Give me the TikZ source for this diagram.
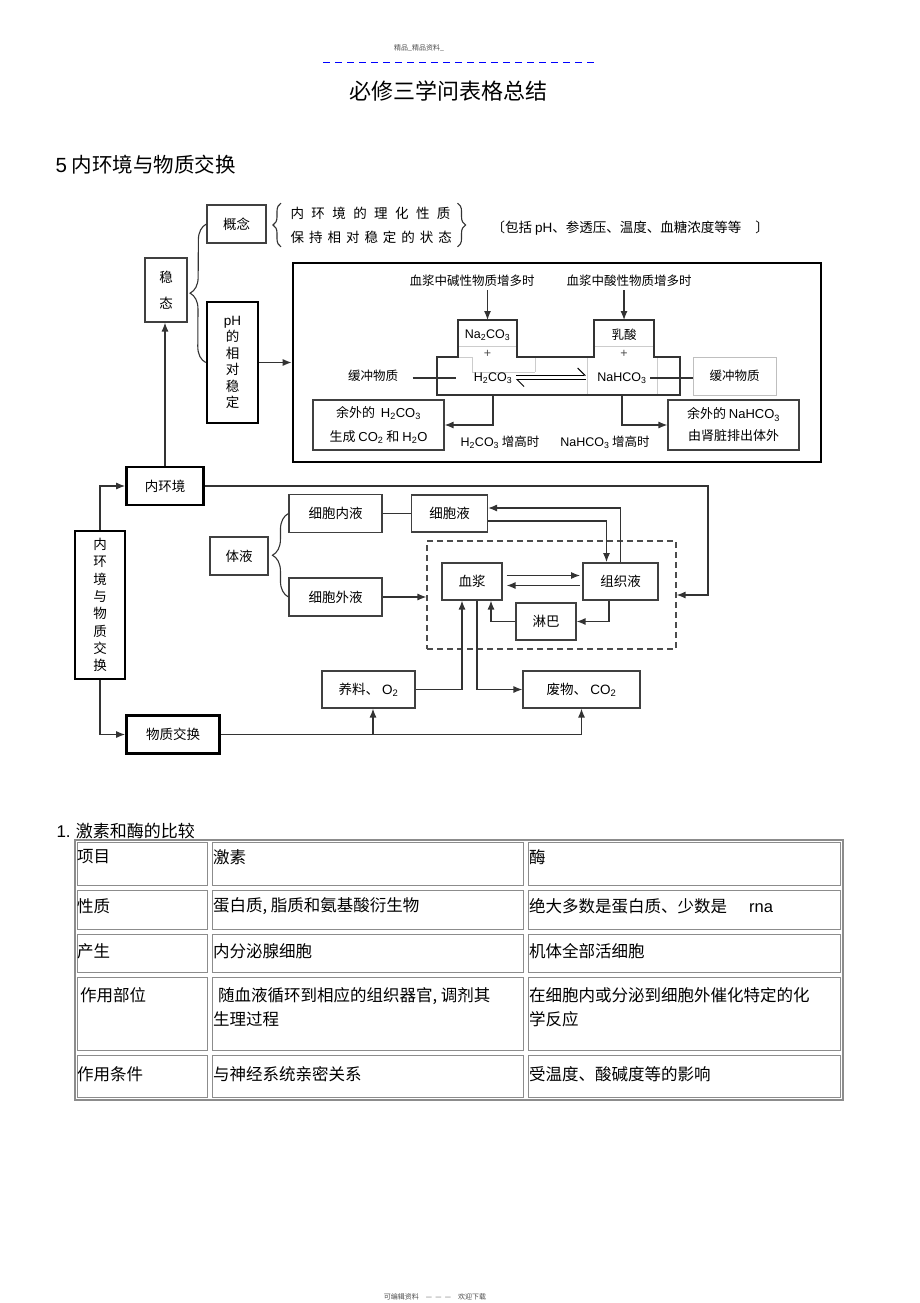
\documentclass[tikz,border=0pt]{standalone}
\usepackage{fontspec}
\setmainfont{Noto Sans CJK SC}
\newfontfamily\lat{Liberation Sans}
\usetikzlibrary{arrows.meta, decorations.pathreplacing}

\newcommand{\hco}{{\lat H\textsubscript{2}CO\textsubscript{3}}}
\newcommand{\nahco}{{\lat NaHCO\textsubscript{3}}}
\newcommand{\naco}{{\lat Na\textsubscript{2}CO\textsubscript{3}}}
\newcommand{\cotwo}{{\lat CO\textsubscript{2}}}

\tikzset{
	box/.style = {draw = black!75, line width = 1.1pt, inner sep = 0pt},
	bbox/.style = {draw, line width = 2.6pt, inner sep = 0pt},
	line/.style = {draw = black!80, line width = 1.2pt},
	curly/.style = {decorate, decoration = {brace, amplitude = #1}, draw = black!80, line width = 1.1pt},
	stxt/.style = {font = \fontsize{12.5}{15}\selectfont},
	grid/.style = {draw = black!45, line width = 1.4pt},
	tcell/.style = {anchor = west, inner sep = 0pt, font = \fontsize{16.5}{24}\selectfont}
}

\begin{document}
\begin{tikzpicture}[x = 1pt, y = -1pt, > = {Latex[length = 9pt, width = 7pt]}, font = \fontsize{13.5}{16}\selectfont]

\useasboundingbox (0, 0) rectangle (920, 1303);

% page head
\node [font = \fontsize{7}{8}\selectfont, text = black!70] (hdr) at (419, 48) {精品\_精品资料\_};
\draw [blue, line width = 1pt, dash pattern = on 7pt off 5pt] (323, 63) -- (597, 63);
\node [font = \fontsize{22}{24}\selectfont] (title) at (448, 91) {必修三学问表格总结};
\node [anchor = west, font = \fontsize{20.5}{24}\selectfont] (sec5) at (52, 165) {{\lat 5} 内环境与物质交换};

% steady state
\node [box, minimum width = 59pt, minimum height = 38pt] (gainian) at (236.5, 224) {概念};
\node [anchor = west, align = left, font = \fontsize{13.5}{24}\selectfont] (gnote) at (287, 225)
	{{\addfontfeature{LetterSpace = 55}内环境的理化性质}\\{\addfontfeature{LetterSpace = 37}保持相对稳定的状态}};
\draw [curly = 8pt] ([xshift = -6pt]gnote.south west) -- ([xshift = -6pt]gnote.north west);
\draw [curly = 8pt] ([xshift = 2pt]gnote.north east) -- ([xshift = 2pt]gnote.south east);
\node [anchor = west] (baokuo) at (488, 228) {〔包括 {\lat pH}、参透压、温度、血糖浓度等等\hspace{14pt}〕};

\node [box, minimum width = 42pt, minimum height = 64pt, align = center, font = \fontsize{13.5}{26}\selectfont] (wentai) at (166, 290) {稳\\态};
\node [bbox, minimum width = 51pt, minimum height = 121pt, align = center, font = \fontsize{13.5}{16.5}\selectfont] (phbox) at (232.5, 362.5) {{\lat pH}\\的\\相\\对\\稳\\定};
\draw [curly = 16pt] (phbox.west) -- (gainian.west);

\node [bbox, minimum width = 528pt, minimum height = 199pt] (bigbox) at (557, 362.5) {};
\draw [line, ->] (phbox.east) -- (bigbox.west);

% buffer pair
\node [stxt] (jian) at (472, 281) {血浆中碱性物质增多时};
\node [stxt] (suan) at (629, 281) {血浆中酸性物质增多时};

\draw [black!20, line width = 0.8pt] (458, 346) -- (517, 346) (594, 346) -- (654, 346)
	(458, 357) -- (472, 357) -- (472, 372) -- (535, 372) (535, 357) -- (535, 372)
	(517, 357) -- (594, 357) (587, 357) -- (587, 395) (657, 357) -- (657, 395);
\draw [draw = black!80, line width = 1.6pt] (437, 395) -- (437, 357) -- (458, 357) -- (458, 320) -- (517, 320) -- (517, 357)
	-- (594, 357) -- (594, 320) -- (654, 320) -- (654, 357) -- (680, 357) -- (680, 395) -- cycle;
\coordinate (ltop) at (487.5, 320);
\coordinate (rtop) at (624, 320);
\coordinate (bbot) at (437, 395);

\draw [line, ->] (jian.south -| ltop) -- (ltop);
\draw [line, ->] (suan.south -| rtop) -- (rtop);

\node [stxt] (na2co3) at (487.5, 335) {\naco};
\node [stxt] (rusuan) at (624, 335) {乳酸};
\node [stxt, text = black!70] (plusa) at (487.5, 354) {\lat +};
\node [stxt, text = black!70] (plusb) at (624, 354) {\lat +};
\node [stxt] (h2co3) at (493, 378) {\hco};
\node [stxt] (nahco3) at (622, 378) {\nahco};

\draw [line width = 1pt, -{Straight Barb[harpoon, length = 7pt]}] ([yshift = 3pt]h2co3.east) -- ([yshift = 3pt, xshift = -8pt]nahco3.west);
\draw [line width = 1pt, -{Straight Barb[harpoon, length = 7pt]}] ([yshift = -1.5pt, xshift = -8pt]nahco3.west) -- ([yshift = -1.5pt]h2co3.east);

\node [stxt] (lbuf) at (373, 376) {缓冲物质};
\node [stxt, draw = black!25, line width = 0.8pt, minimum width = 83pt, minimum height = 38pt] (rbuf) at (734.5, 376) {缓冲物质};
\draw [line, shorten < = 11pt, shorten > = 14pt] (lbuf.east |- h2co3.west) -- (h2co3.west);
\draw [line] (nahco3.east) -- (nahco3.east -| rbuf.west);

\node [box, minimum width = 131pt, minimum height = 50pt, align = center, font = \fontsize{13}{24}\selectfont] (yuh2) at (378.5, 425)
	{余外的\ \ \hco\\生成\ \cotwo\ 和\ {\lat H\textsubscript{2}O}};
\node [box, minimum width = 131pt, minimum height = 50pt, align = center, font = \fontsize{13}{22}\selectfont] (yuna) at (733.5, 425)
	{余外的\ \nahco\\由肾脏排出体外};
\draw [line, ->] (h2co3 |- bbot) |- (yuh2.east);
\draw [line, ->] (nahco3 |- bbot) |- (yuna.west);
\node [stxt] (h2up) at (500, 442) {\hco\ 增高时};
\node [stxt] (naup) at (605, 442) {\nahco\ 增高时};

% inner environment and exchange
\node [bbox, minimum width = 77pt, minimum height = 38pt] (neihj) at (165, 486) {内环境};
\node [bbox, minimum width = 50pt, minimum height = 148pt, align = center, font = \fontsize{13.5}{17.3}\selectfont] (nhjwz) at (100, 605)
	{内\\环\\境\\与\\物\\质\\交\\换};
\node [bbox, minimum width = 93pt, minimum height = 38pt] (wzjh) at (173, 734.5) {物质交换};
\draw [line, ->] (neihj.north) -- (neihj.north |- wentai.south);
\draw [line, ->] (nhjwz.north) |- (neihj.west);
\draw [line, ->] (nhjwz.south) |- (wzjh.west);

\node [box, minimum width = 58pt, minimum height = 38pt] (tiye) at (239, 556) {体液};
\node [box, minimum width = 93pt, minimum height = 38pt] (xbny) at (335.5, 513.5) {细胞内液};
\node [box, minimum width = 93pt, minimum height = 38pt] (xbwy) at (335.5, 597) {细胞外液};
\draw [curly = 16pt] (xbwy.west) -- (xbny.west);
\node [box, minimum width = 76pt, minimum height = 37pt] (xby) at (449.5, 513.5) {细胞液};
\draw [line] (xbny.east) -- (xby.west);

\node [draw = black!70, line width = 1.1pt, dash pattern = on 6pt off 4pt, minimum width = 249pt, minimum height = 108pt] (huanjing) at (551.5, 595) {};
\node [box, minimum width = 60pt, minimum height = 37pt] (xuejiang) at (472, 581.5) {血浆};
\node [box, line width = 1.8pt, minimum width = 75pt, minimum height = 37pt] (zzy) at (620.5, 581.5) {组织液};
\node [box, minimum width = 60pt, minimum height = 37pt] (linba) at (546, 621.5) {淋巴};
\node [box, minimum width = 93pt, minimum height = 37pt] (yangliao) at (368.5, 689.5) {养料、\ {\lat O\textsubscript{2}}};
\node [box, minimum width = 117pt, minimum height = 37pt] (feiwu) at (581.5, 689.5) {废物、\ \cotwo};

\draw [line, ->] (xbwy.east) -- (xbwy.east -| huanjing.west);
\coordinate (rt) at (708, 486);
\draw [line, ->] (neihj.east) -- (neihj.east -| rt) |- (huanjing.east);

\draw [line, ->, shorten < = 4pt, shorten > = 2pt] ([yshift = 6pt]xuejiang.east) -- ([yshift = 6pt]zzy.west);
\draw [line, ->, shorten < = 2pt, shorten > = 4pt] ([yshift = -4pt]zzy.west) -- ([yshift = -4pt]xuejiang.east);
\draw [line, ->] ([xshift = -11.5pt]zzy.south) |- (linba.east);
\draw [line, ->] (linba.west) -| ([xshift = 19pt]xuejiang.south);
\draw [line, ->] ([yshift = -7.5pt]xby.east) -| ([xshift = -14pt]zzy.north);
\draw [line, ->] (zzy.north) |- ([yshift = 5.5pt]xby.east);

\draw [line, ->] (yangliao.east) -| ([xshift = -10pt]xuejiang.south);
\draw [line, ->] ([xshift = 5pt]xuejiang.south) |- (feiwu.west);
\draw [line, ->] (wzjh.east) -| (feiwu.south);
\draw [line, ->] ([xshift = 4.5pt]yangliao.south |- wzjh.east) -- ([xshift = 4.5pt]yangliao.south);

% hormone and enzyme table
\node [anchor = west, font = \fontsize{17}{20}\selectfont] (sec1) at (53, 831) {{\lat 1.} 激素和酶的比较};
\draw [grid] (75, 840) rectangle (843, 1100);
\foreach \ya/\yb in {840/888, 888/932, 932/975, 975/1053, 1053/1100}
	\foreach \xa/\xb in {75/210, 210/526, 526/843}
		\draw [grid] (\xa + 2.5, \ya + 2.5) rectangle (\xb - 2.5, \yb - 2.5);

\node [tcell] (t11) at (77, 857) {项目};
\node [tcell] (t12) at (213, 857) {激素};
\node [tcell] (t13) at (529, 857) {酶};
\node [tcell] (t21) at (77, 906) {性质};
\node [tcell] (t22) at (213, 906) {蛋白质, 脂质和氨基酸衍生物};
\node [tcell] (t23) at (529, 906) {绝大多数是蛋白质、少数是\hspace{22pt}{\lat rna}};
\node [tcell] (t31) at (77, 951) {产生};
\node [tcell] (t32) at (213, 951) {内分泌腺细胞};
\node [tcell] (t33) at (529, 951) {机体全部活细胞};
\node [tcell] (t41) at (80, 995) {作用部位};
\node [tcell, align = left] (t42) at (213, 1007) {\hspace{5pt}随血液循环到相应的组织器官, 调剂其\\生理过程};
\node [tcell, align = left] (t43) at (529, 1007) {在细胞内或分泌到细胞外催化特定的化\\学反应};
\node [tcell] (t51) at (77, 1074) {作用条件};
\node [tcell] (t52) at (213, 1074) {与神经系统亲密关系};
\node [tcell] (t53) at (529, 1074) {受温度、酸碱度等的影响};

\node [font = \fontsize{7}{8}\selectfont, text = black!70] (ftr) at (435, 1297) {可编辑资料\quad — \ — \ —\quad 欢迎下载};

\end{tikzpicture}
\end{document}
